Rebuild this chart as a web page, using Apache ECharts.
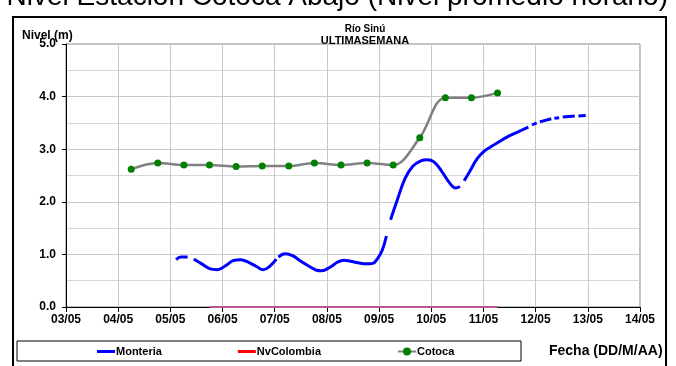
<!DOCTYPE html>
<html>
<head>
<meta charset="utf-8">
<script src="https://cdn.jsdelivr.net/npm/echarts@6/dist/echarts.min.js"></script>
<style>
  html, body { margin: 0; padding: 0; background: #fff; }
  #chart { width: 676px; height: 366px; }
</style>
</head>
<body>
<div id="chart"></div>
<script>
// x values are days of May (3 = 03/05 00:00)
var dayLabels = ['03/05', '04/05', '05/05', '06/05', '07/05', '08/05', '09/05', '10/05', '11/05', '12/05', '13/05', '14/05'];
var yLabels = ['0.0', '1.0', '2.0', '3.0', '4.0', '5.0'];

// Monteria, null = missing data
var monteria = [
  [5.11, 0.90], [5.2, 0.95], [5.33, 0.95], null,
  [5.45, 0.91], [5.6, 0.82], [5.75, 0.73], [5.9, 0.71], [6.05, 0.78], [6.2, 0.88], [6.35, 0.90],
  [6.5, 0.85], [6.65, 0.77], [6.78, 0.71], [6.9, 0.77], [7.03, 0.91], null,
  [7.07, 0.95], [7.2, 1.01], [7.35, 0.97], [7.5, 0.87], [7.65, 0.78], [7.8, 0.70], [7.9, 0.69],
  [8.05, 0.75], [8.2, 0.85], [8.32, 0.89], [8.45, 0.87], [8.6, 0.84], [8.75, 0.82], [8.88, 0.83],
  [8.97, 0.92], [9.06, 1.08], [9.14, 1.35], null,
  [9.22, 1.66], [9.35, 2.04], [9.5, 2.45], [9.65, 2.68], [9.8, 2.78], [9.92, 2.80], [10.05, 2.76],
  [10.2, 2.58], [10.35, 2.36], [10.47, 2.26], [10.55, 2.29], null,
  [10.63, 2.40], [10.75, 2.60], [10.88, 2.82], [11.0, 2.95], [11.15, 3.05], [11.3, 3.14],
  [11.45, 3.23], [11.6, 3.30], [11.75, 3.37], [11.86, 3.42], null,
  [11.93, 3.46], [12.02, 3.50], null,
  [12.08, 3.52], [12.3, 3.58], null,
  [12.36, 3.59], [12.45, 3.60], null,
  [12.52, 3.61], [12.75, 3.63], null,
  [12.82, 3.63], [12.96, 3.64]
];

var nvColombia = [[5.75, 0], [11.27, 0]];

var cotocaDays = [4.25, 4.76, 5.26, 5.75, 6.26, 6.76, 7.27, 7.76, 8.27, 8.77, 9.27, 9.78, 10.27, 10.77, 11.27];
var cotocaVals = [2.62, 2.74, 2.70, 2.70, 2.67, 2.68, 2.68, 2.74, 2.70, 2.74, 2.70, 3.22, 3.98, 3.98, 4.07];

var font = 'Arial, "Liberation Sans", sans-serif';
var lineIcon = 'path://M0,0 L18,0 L18,3 L0,3 Z';
var chart = echarts.init(document.getElementById('chart'));

var option = {
  backgroundColor: '#fff',
  animation: false,
  grid: {
    left: 66, right: 36, top: 44, bottom: 59,
    show: true, borderColor: '#808080', borderWidth: 1
  },
  legend: {
    left: 97, top: 346, padding: 0,
    itemWidth: 18, itemHeight: 10, itemGap: 76,
    textStyle: { fontFamily: font, fontWeight: 'bold', fontSize: 11, color: '#000', padding: [0, 0, 0, -4] },
    data: [
      { name: 'Monteria', icon: lineIcon },
      { name: 'NvColombia', icon: lineIcon, itemStyle: { color: '#ff0000' } },
      { name: 'Cotoca' }
    ]
  },
  xAxis: {
    type: 'value',
    min: 3, max: 14, interval: 1,
    axisLine: { lineStyle: { color: '#000', width: 1 } },
    axisTick: { show: true, length: 5, lineStyle: { color: '#000' } },
    axisLabel: {
      fontFamily: font, fontWeight: 'bold', fontSize: 12, color: '#000', margin: 7,
      formatter: function (v) { return dayLabels[Math.round(v - 3)]; }
    },
    splitLine: { show: true, lineStyle: { color: '#c8c8c8', width: 1 } }
  },
  yAxis: {
    type: 'value',
    min: 0, max: 5, interval: 1,
    axisLine: { show: true, lineStyle: { color: '#000', width: 1 } },
    axisTick: { show: true, length: 4, lineStyle: { color: '#000' } },
    axisLabel: {
      fontFamily: font, fontWeight: 'bold', fontSize: 12, color: '#000', margin: 10,
      formatter: function (v) { return yLabels[Math.round(v)]; }
    },
    splitLine: { show: true, lineStyle: { color: '#c8c8c8', width: 1 } },
    minorTick: { show: false, splitNumber: 2 },
    minorSplitLine: { show: true, lineStyle: { color: '#d8d8d8', width: 1 } }
  },
  series: [
    {
      name: 'Monteria', type: 'line',
      data: monteria, smooth: 0.4, connectNulls: false,
      showSymbol: false, symbol: 'none',
      itemStyle: { color: '#0000ff' },
      lineStyle: { color: '#0000ff', width: 3 },
      z: 4
    },
    {
      name: 'NvColombia', type: 'line',
      data: nvColombia, showSymbol: false, symbol: 'none',
      itemStyle: { color: '#ff0000' },
      lineStyle: { color: '#b8558e', width: 2 },
      z: 3
    },
    {
      name: 'Cotoca', type: 'line',
      data: cotocaDays.map(function (d, i) { return [d, cotocaVals[i]]; }),
      smooth: 0.35,
      symbol: 'circle', symbolSize: 7, showSymbol: true,
      itemStyle: { color: '#008000' },
      lineStyle: { color: '#808080', width: 2.5 },
      z: 5
    }
  ],
  graphic: [
    {
      type: 'text', x: 668, y: 11,
      style: {
        text: 'Nivel Estación Cotocá Abajo (Nivel promedio horario)',
        font: '28px ' + font, fill: '#000', align: 'right', verticalAlign: 'bottom'
      }
    },
    {
      type: 'rect', shape: { x: 13, y: 17, width: 653, height: 370 },
      style: { fill: 'none', stroke: '#000', lineWidth: 2 }, z: 10
    },
    {
      type: 'text', left: 22, top: 30,
      style: { text: 'Nivel (m)', font: 'bold 12px ' + font, fill: '#000' }
    },
    {
      type: 'text', x: 365, y: 24,
      style: { text: 'Río Sinú', font: 'bold 10px ' + font, fill: '#000', align: 'center' }
    },
    {
      type: 'text', x: 365, y: 35,
      style: { text: 'ULTIMASEMANA', font: 'bold 11px ' + font, fill: '#000', align: 'center' }
    },
    {
      type: 'rect', shape: { x: 17, y: 341, width: 504, height: 20 },
      style: { fill: 'none', stroke: '#000', lineWidth: 1 }
    },
    {
      type: 'text', x: 549, y: 344,
      style: { text: 'Fecha (DD/M/AA)', font: 'bold 14px ' + font, fill: '#000' }
    }
  ]
};

chart.setOption(option);
</script>
</body>
</html>
